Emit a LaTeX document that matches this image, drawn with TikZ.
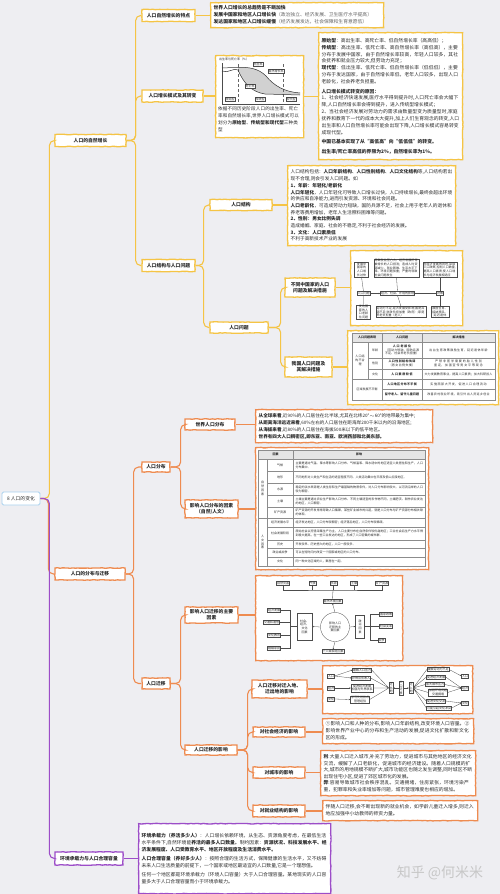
\documentclass[tikz,border=0pt]{standalone}
\usepackage{fontspec}
\setmainfont{Noto Sans CJK SC}
\XeTeXlinebreaklocale "zh"
\XeTeXlinebreakskip = 0pt plus 0.5pt
\usetikzlibrary{decorations.pathmorphing,arrows.meta,calc}
\definecolor{yl}{HTML}{F5C445}
\definecolor{og}{HTML}{EE8B50}
\definecolor{pp}{HTML}{9C4DC8}
\definecolor{bgc}{HTML}{EEEEF2}
\definecolor{tx}{HTML}{2B2B2B}
\definecolor{rootc}{HTML}{A9D1EE}
\tikzset{
 wob/.style={decorate, decoration={random steps, segment length=2.5pt, amplitude=0.3pt}},
 lab/.style={draw=#1, line width=1.3pt, fill=white, wob, font=\bfseries\fontsize{4.8}{5.8}\selectfont, text=tx, inner sep=0.5pt, align=center},
 tb/.style={draw=#1, line width=1.3pt, fill=white, wob, font=\fontsize{4.8}{7}\selectfont, text=tx, inner sep=3pt, align=left, anchor=north west},
 frm/.style={draw=#1, line width=1.3pt, fill=white, wob, inner sep=0pt, anchor=north west},
 conn/.style={draw=#1, line width=1.1pt, rounded corners=5pt},
 db/.style={draw=black!70, line width=0.3pt, fill=white, inner sep=0.5pt, font=\fontsize{3}{3.6}\selectfont, align=center, text=tx},
 tc/.style={inner sep=0.3pt, font=\fontsize{3}{3.8}\selectfont, text=tx, align=center},
 tl/.style={inner sep=0.3pt, font=\fontsize{3}{3.8}\selectfont, text=tx, align=left, anchor=west},
 gridl/.style={draw=black!45, line width=0.3pt},
 arr/.style={-{Stealth[length=1.6pt,width=1.3pt]}, line width=0.3pt, draw=black!70},
 ln/.style={line width=0.3pt, draw=black!70},
}
\begin{document}
\begin{tikzpicture}[x=1pt,y=-1pt]
\fill[bgc] (0,0) rectangle (500,894);
\useasboundingbox (0,0) rectangle (500,894);

% ---------- root and level 1
\node[draw=rootc, line width=0.8pt, fill=white, rounded corners=1.5pt, font=\fontsize{4.8}{6}\selectfont, text=tx, minimum width=38pt, minimum height=13pt, inner sep=1pt] (r) at (21,498.5) {8 人口的变化};
\node[lab=yl, minimum width=71pt, minimum height=12pt] (n1) at (90.5,140.5) {人口的自然增长};
\node[lab=og, minimum width=70pt, minimum height=12pt] (n2) at (90,574) {人口的分布与迁移};
\node[lab=pp, minimum width=68pt, minimum height=13pt] (n3) at (89,858.5) {环境承载力与人口合理容量};
\draw[conn=yl] (r.east) -- ++(9,0) |- (n1.west);
\draw[conn=og] (r.east) -- ++(8,0) |- (n2.west);
\draw[conn=pp] (r.east) -- ++(9,0) |- (n3.west);

% ---------- yellow: level 2
\node[lab=yl, minimum width=53pt, minimum height=12pt] (a1) at (168.5,15.5) {人口自然增长的特点};
\node[lab=yl, minimum width=61pt, minimum height=12pt] (a2) at (172.5,96) {人口增长模式及其转变};
\node[lab=yl, minimum width=53pt, minimum height=12pt] (a3) at (168.5,265.5) {人口结构与人口问题};
\draw[conn=yl] (n1.east) -- ++(9,0) |- (a1.west);
\draw[conn=yl] (n1.east) -- ++(9,0) |- (a2.west);
\draw[conn=yl] (n1.east) -- ++(9,0) |- (a3.west);

\node[tb=yl, text width=167pt, minimum height=25pt] (a1t) at (210,2) {\textbf{世界人口增长的总趋势是不断加快}\\
\textbf{发展中国家和地区人口增长快}{\color{black!60}（政治独立、经济发展、卫生医疗水平提高）}\\
\textbf{发达国家和地区人口增长缓慢}{\color{black!60}（经济发展发达，社会保障和生育意愿低）}};
\draw[conn=yl] (a1.east) -- (a1.east -| a1t.west);

% chart box
\node[frm=yl, minimum width=88pt, minimum height=82pt] (a2c) at (215,55) {};
\draw[conn=yl] (a2.east) -- (a2.east -| a2c.west);
\node[inner sep=0pt, font=\fontsize{3}{3.6}\selectfont, text=tx, anchor=west] (ctitle) at (219,59.5) {出生率与死亡率（\%）};
\fill[black!18] (238,70) .. controls (244,84) and (252,92) .. (265,94) -- (300,95) -- (300,93) .. controls (285,92) and (274,86) .. (266,76) .. controls (258,68) and (248,67) .. (238,67.5) -- cycle;
\draw[line width=0.4pt, black!70] (222,63) -- (222,104) -- (300,104);
\draw[line width=0.3pt, black!60, densely dashed] (238,64) -- (238,104) (283,64) -- (283,104);
\draw[line width=0.5pt, black!80] (222,68) .. controls (232,67.5) and (236,67.5) .. (238,67.5) .. controls (248,67) and (258,68) .. (266,76) .. controls (274,86) and (285,92) .. (300,93);
\draw[line width=0.5pt, black!80] (222,71) .. controls (228,74) and (234,67) .. (238,70) .. controls (244,84) and (252,92) .. (265,94) -- (300,95);
\node[db] (cb) at (258,64) {出生率};
\node[db] (cd) at (250,86) {死亡率};
\node[db] (cz) at (276,71) {自然增长率};
\node[db] (cy1) at (230,99.5) {原始型};
\node[db] (cy2) at (260,99.5) {传统型};
\node[db] (cy3) at (291,99.5) {现代型};
\node[inner sep=0pt, font=\fontsize{4.6}{6.9}\selectfont, text=tx, text width=82pt, align=left, anchor=north west] (a2ct) at (218,106.5) {依据不同历史阶段人口的出生率、死亡率和自然增长率,世界人口增长模式可以划分为\textbf{原始型}、\textbf{传统型和现代型}三种类型};

\node[tb=yl, text width=138pt, minimum height=127pt, font=\fontsize{4.8}{6.9}\selectfont] (a2t) at (318,32) {\textbf{原始型}：高出生率、高死亡率、低自然增长率（高高低）；\\
\textbf{传统型}：高出生率、低死亡率、高自然增长率（高低高），主要分布于发展中国家，由于自然增长率较高，年轻人口较多，其社会抚养和就业压力较大,但劳动力充足；\\
\textbf{现代型}：低出生率、低死亡率、低自然增长率（低低低），主要分布于发达国家，由于自然增长率低，老年人口较多，出现人口老龄化，社会养老负担重。\\[2.5pt]
\textbf{人口增长模式转变的原因：}\\
1、社会经济快速发展,医疗水平得到提升时,人口死亡率会大幅下降,人口自然增长率会得到提升，进入传统型增长模式；\\
2、当社会经济发展对劳动力的需求由数量型变为质量型时,家庭抚养和教育下一代的成本大大提升,加上人们生育观念的转变,人口出生率和人口自然增长率可能会出现下降,人口增长模式容易转变成现代型。\\[2.5pt]
\textbf{中国已基本实现了从“高低高”向“低低低”的转变。}\\[2.5pt]
\textbf{出生率/死亡率高低的界限为2\%，自然增长率为1\%。}};
\draw[conn=yl] (a2c.east) -- (a2c.east -| a2t.west);

% ---------- yellow: level 3
\node[lab=yl, minimum width=62pt, minimum height=11pt] (b1) at (241,205) {人口结构};
\node[lab=yl, minimum width=58pt, minimum height=11pt] (b2) at (239,327.5) {人口问题};
\draw[conn=yl] (a3.east) -- ++(8,0) |- (b1.west);
\draw[conn=yl] (a3.east) -- ++(8,0) |- (b2.west);

\node[tb=yl, text width=162pt, minimum height=80pt, font=\fontsize{4.7}{6.7}\selectfont] (b1t) at (287,165) {人口结构包括：\textbf{人口年龄结构}、\textbf{人口性别结构}、\textbf{人口文化结构}等,人口结构若出现不合理,则会引发人口问题。如\\
\textbf{1、年龄：年轻化/老龄化}\\
\textbf{人口年轻化}，人口年轻化可导致人口增长过快，人口持续增长,最终会超出环境的供应和自净能力,进而引发资源、环境和社会问题。\\
\textbf{人口老龄化}，可造成劳动力短缺，国防兵源不足，社会上用于老年人的退休和养老等费用增加，老年人生活照料困难等问题。\\
\textbf{2、性别：男女比例失调}\\
造成婚姻、家庭、社会的不稳定,不利于社会经济的发展。\\
\textbf{3、文化：人口素质低}\\
不利于高新技术产业的发展};
\draw[conn=yl] (b1.east) -- (b1.east -| b1t.west);

% level 4 under 人口问题
\node[lab=yl, minimum width=50pt, minimum height=19pt] (c1) at (310,287.5) {不同中国家的人口\\问题及解决措施};
\node[lab=yl, minimum width=47pt, minimum height=20pt] (c2) at (308.5,367) {我国人口问题及\\其解决措施};
\draw[conn=yl] (b2.east) -- ++(12,0) |- (c1.west);
\draw[conn=yl] (b2.east) -- ++(12,0) |- (c2.west);

% diagram: countries
\node[frm=yl, minimum width=112pt, minimum height=75pt] (c1d) at (350,250) {};
\draw[conn=yl] (c1.east) -- (c1.east -| c1d.west);
\node[db, text width=13pt] (p1) at (361.5,269.5) {发展中\\国家的\\人口增\\长过快};
\node[db, text width=44pt, align=left] (p2) at (396.5,268) {导致就业压力大、经济发展所得被增长的人口抵消；造成人均资源减少、就业困难、生活水平下降、环境问题加重；严重时导致社会问题发生};
\node[db, text width=33pt, align=left] (p3) at (440,269.5) {在经济发展的同时,采取人口政策,控制人口数量,提高人口素质,使人口增长与经济发展相适应};
\node[db] (q1) at (363.5,293.5) {人口问题};
\node[db] (q2) at (397.5,293.5) {经济、社会、环境的影响};
\node[db] (q3) at (440,293.5) {对策};
\node[db, text width=13pt] (s1) at (363.5,312) {发达国\\家的人\\口老龄\\化问题};
\node[db, text width=49pt, align=left] (s2) at (401,312) {劳动力不足,经济发展受影响;国防兵源不足;财政负担加重（政府）;家庭养老负担重（老人）};
\node[db, text width=17pt] (s3) at (440,312) {鼓励生育、\\接纳移民、\\延迟退休};
\draw[ln] (p1.south) -- (q1.north) (q1.south) -- (s1.north);
\draw[ln] (p2.south) -- (q2.north) (q2.south) -- (s2.north);
\draw[ln] (p3.south) -- (q3.north) (q3.south) -- (s3.north);
\draw[arr] (q1.east) -- (q2.west);
\draw[ln] (q2.east) -- (q3.west);

% table: China
\node[frm=yl, minimum width=151pt, minimum height=74pt] (c2t) at (347,330) {};
\draw[conn=yl] (c2.east) -- (c2.east -| c2t.west);
\fill[black!10] (352,333) rectangle (495,342);
\draw[gridl] (352,333) rectangle (495,400);
\draw[gridl] (352,342) -- (495,342) (368,358) -- (495,358) (368,369) -- (495,369) (352,379) -- (495,379) (382,389) -- (495,389);
\draw[gridl] (368,342) -- (368,379) (382,333) -- (382,400) (422,333) -- (422,400);
\node[tc, font=\bfseries\fontsize{3}{3.8}\selectfont] (h1) at (367,337.5) {人口问题表现};
\node[tc, font=\bfseries\fontsize{3}{3.8}\selectfont] (h2) at (402,337.5) {人口问题};
\node[tc, font=\bfseries\fontsize{3}{3.8}\selectfont] (h3) at (458.5,337.5) {解决措施};
\node[tc, text width=13pt] (t0) at (360,360.5) {人口结\\构不合\\理};
\node[tc] (t1) at (375,350) {年龄};
\node[tc] (t2) at (375,363.5) {性别};
\node[tc] (t3) at (375,374) {文化};
\node[tc] (t4) at (367,389.5) {区域发展不平衡};
\node[tc, text width=37pt] (u1) at (402,350) {\textbf{人口老龄化}\\（劳动力短缺、国防兵源不足、社会养老负担重）};
\node[tc, text width=37pt] (u2) at (402,363.5) {\textbf{人口性别结构失调}\\（男女比例失衡）};
\node[tc, text width=37pt] (u3) at (402,374) {\textbf{人口素质较低}};
\node[tc, text width=37pt] (u4) at (402,384) {\textbf{人口地区分布不平衡}};
\node[tc, text width=37pt] (u5) at (402,394.5) {\textbf{留守老人、留守儿童问题}};
\node[tc, text width=70pt] (v1) at (458.5,350) {出台生育政策鼓励生育，延迟退休年龄};
\node[tc, text width=70pt] (v2) at (458.5,363.5) {严禁非医学需要的胎儿性别鉴定，加强宣传男女平等观念};
\node[tc, text width=70pt] (v3) at (458.5,374) {大力发展教育事业，提高人口素质；加大科研投入};
\node[tc, text width=70pt] (v4) at (458.5,384) {实施西部大开发，促进人口合理流动};
\node[tc, text width=70pt] (v5) at (458.5,394.5) {改善农村就业环境，吸引外出人员返乡创业};

% ---------- orange
\node[lab=og, minimum width=28pt, minimum height=10pt] (d1) at (156,467) {人口分布};
\node[lab=og, minimum width=28pt, minimum height=11pt] (d2) at (156,683.5) {人口迁移};
\draw[conn=og] (n2.east) -- ++(8,0) |- (d1.west);
\draw[conn=og] (n2.east) -- ++(8,0) |- (d2.west);

\node[lab=og, minimum width=50pt, minimum height=11pt] (e1) at (210,424.5) {世界人口分布};
\node[lab=og, minimum width=53pt, minimum height=18pt] (e2) at (211.5,509) {影响人口分布的因素\\（自然/人文）};
\draw[conn=og] (d1.east) -- ++(10,0) |- (e1.west);
\draw[conn=og] (d1.east) -- ++(10,0) |- (e2.west);

\node[tb=og, text width=171pt, minimum height=33pt, font=\fontsize{4.6}{7}\selectfont] (e1t) at (255,409) {\textbf{从全球来看},近90\%的人口居住在北半球,尤其在北纬20°$\sim$60°的地带最为集中;\\
\textbf{从距离海洋远近来看},60\%左右的人口居住在距海岸200千米以内的沿海地区;\\
\textbf{从海拔来看},近80\%的人口居住在海拔500米以下的低平地区。\\
\textbf{世界有四大人口稠密区,即东亚、南亚、欧洲西部和北美东部。}};
\draw[conn=og] (e1.east) -- (e1.east -| e1t.west);

% table: distribution factors
\node[frm=og, minimum width=173pt, minimum height=122pt] (e2t) at (255,447) {};
\draw[conn=og] (e2.east) -- (e2.east -| e2t.west);
\fill[black!10] (258,450) rectangle (425,459);
\draw[gridl] (258,450) rectangle (425,566);
\draw[gridl] (258,459) -- (425,459) (258,518) -- (425,518);
\draw[gridl] (267,471) -- (425,471) (267,483) -- (425,483) (267,495) -- (425,495) (267,507) -- (425,507);
\draw[gridl] (267,527) -- (425,527) (267,540) -- (425,540) (267,548) -- (425,548) (267,557) -- (425,557);
\draw[gridl] (267,459) -- (267,566) (293,450) -- (293,566);
\node[tc, font=\bfseries\fontsize{3}{3.8}\selectfont] (fh1) at (275.5,454.5) {因素};
\node[tc, font=\bfseries\fontsize{3}{3.8}\selectfont] (fh2) at (359,454.5) {影响};
\node[tc] (fg1) at (262.5,488.5) {自\\然\\因\\素};
\node[tc] (fg2) at (262.5,542) {人\\文\\因\\素};
\node[tc] (fa1) at (280,465) {气候};
\node[tc] (fa2) at (280,477) {地形};
\node[tc] (fa3) at (280,489) {水源};
\node[tc] (fa4) at (280,501) {土壤};
\node[tc] (fa5) at (280,512.5) {矿产资源};
\node[tc] (fa6) at (280,522.5) {经济发展水平};
\node[tc] (fa7) at (280,533.5) {社会发展阶段};
\node[tc] (fa8) at (280,544) {历史};
\node[tc] (fa9) at (280,552.5) {政治或战争};
\node[tc] (fa10) at (280,561.5) {文化};
\node[tl, text width=128pt] (fb1) at (295,465) {主要是通过气温、降水等影响人口分布。气候温和、降水适中的地区适宜人类居住和生产，人口分布集中。};
\node[tl, text width=128pt] (fb2) at (295,477) {不同地形对人类生产和生活的适宜程度不同。人类活动集中在平原及低山丘陵地区。};
\node[tl, text width=128pt] (fb3) at (295,489) {稳定的淡水来源是人类生存和生产最基础的物质条件，对人口分布影响较大。以河流沿岸的人口较为稠密。};
\node[tl, text width=128pt] (fb4) at (295,501) {土壤主要是通过农业生产影响人口分布。不同土壤适宜的农作物不同，土壤肥沃、耕作农业发达的地区，人口稠密。};
\node[tl, text width=128pt] (fb5) at (295,512.5) {矿产资源的开发常常导致人口集聚，某些矿业城市的兴起，就是人口分布与矿产资源分布相关联的体现。};
\node[tl, text width=128pt] (fb6) at (295,522.5) {经济发达地区，人口分布较稠密；经济落后地区，人口分布较稀疏。};
\node[tl, text width=128pt] (fb7) at (295,533.5) {原始社会以狩猎采集生产为主，人口主要分布在自然条件较优越地区；工业社会后生产力水平得到极大提高，在一些工业发达的地区，形成了人口密集的城市群。};
\node[tl, text width=128pt] (fb8) at (295,544) {开发较早、历史悠久的地区，人口一般较多。};
\node[tl, text width=128pt] (fb9) at (295,552.5) {可以在短时间内改变一个国家或地区的人口分布。};
\node[tl, text width=128pt] (fb10) at (295,561.5) {同一种文化区域的人，聚居在一起。};

% migration branch
\node[lab=og, minimum width=53pt, minimum height=16pt] (f1) at (211.5,615) {影响人口迁移的主要\\因素};
\node[lab=og, minimum width=52pt, minimum height=10pt] (f2) at (211,750) {人口迁移的影响};
\draw[conn=og] (d2.east) -- ++(10,0) |- (f1.west);
\draw[conn=og] (d2.east) -- ++(10,0) |- (f2.west);

% diagram: migration factors
\node[frm=og, minimum width=147pt, minimum height=85pt] (f1d) at (255,575) {};
\draw[conn=og] (f1.east) -- (f1.east -| f1d.west);
\node[db] (m1) at (283,583.5) {自然灾害};
\node[db] (m2) at (312.5,583.5) {气候};
\node[db] (m3) at (333.5,583.5) {水源};
\node[db] (m4) at (354,583.5) {土壤};
\node[db] (m5) at (382,583.5) {矿产资源};
\coordinate (mt) at (333,590);
\draw[ln] (m1.south) |- (mt) -| (m5.south);
\draw[ln] (m2.south) -- (m2.south |- mt) (m3.south) -- (m3.south |- mt) (m4.south) -- (m4.south |- mt);
\node[db] (mz) at (332.5,601.5) {自然环境因素};
\draw[ln] (mt) -- (mz.north);
\node[db, circle, minimum size=29pt, inner sep=0pt] (mc) at (335,627) {影响人口\\迁移的主\\要因素};
\node[db, minimum width=15pt, minimum height=27pt] (msj) at (304.5,626.5) {社会、\\经济、\\文化\\因素};
\node[db, minimum width=9pt, minimum height=23pt] (mzz) at (360,626.5) {政\\治\\因\\素};
\node[db] (mg) at (333,651.5) {个人或家庭因素};
\draw[arr] (mc.north) -- (mz.south);
\draw[arr] (mc.west) -- (msj.east);
\draw[arr] (mc.east) -- (mzz.west);
\draw[arr] (mc.south) -- (mg.north);
\node[db] (ml1) at (274,610) {经济发展};
\node[db] (ml2) at (271.5,622.5) {交通和通信};
\node[db] (ml3) at (274,635) {文化教育};
\node[db] (ml4) at (274,648.5) {婚姻家庭};
\coordinate (mlb) at (290,626.5);
\draw[ln] (msj.west) -- (mlb);
\draw[ln] (ml1.east) -| (mlb) (ml4.east) -| (mlb) (ml2.east) -- (ml2.east -| mlb) (ml3.east) -- (ml3.east -| mlb);
\node[db] (mr1) at (386,614) {国家政策};
\node[db] (mr2) at (386,626.5) {社会变革};
\node[db] (mr3) at (381.5,640) {战争};
\coordinate (mrb) at (370,626.5);
\draw[ln] (mzz.east) -- (mrb);
\draw[ln] (mr1.west) -| (mrb) (mr3.west) -| (mrb) (mr2.west) -- (mr2.west -| mrb);

% level 4 under 人口迁移的影响
\node[lab=og, minimum width=55pt, minimum height=18pt] (g1) at (279.5,689) {人口迁移对迁入地、\\迁出地的影响};
\node[lab=og, minimum width=52pt, minimum height=10pt] (g2) at (279,732) {对社会经济的影响};
\node[lab=og, minimum width=52pt, minimum height=11pt] (g3) at (279,772.5) {对城市的影响};
\node[lab=og, minimum width=52pt, minimum height=12pt] (g4) at (279,811) {对就业结构的影响};
\draw[conn=og] (f2.east) -- ++(10,0) |- (g1.west);
\draw[conn=og] (f2.east) -- ++(10,0) |- (g2.west);
\draw[conn=og] (f2.east) -- ++(10,0) |- (g3.west);
\draw[conn=og] (f2.east) -- ++(10,0) |- (g4.west);

% diagram: in/out
\node[frm=og, minimum width=150pt, minimum height=48pt] (g1d) at (322,665) {};
\draw[conn=og] (g1.east) -- (g1.east -| g1d.west);
\node[db] (w1) at (331,676) {人口};
\node[db] (w2) at (331,688) {经济};
\node[db] (w3) at (331,699) {文化};
\node[db] (wa1) at (362,670) {缓解人口压力};
\node[db] (wa2) at (361,678) {获得劳务收入};
\node[db] (wa3) at (362,688) {促进经济发展\\加强与外界联系};
\node[db] (wa4) at (360,699.5) {学习先进技术\\管理经验};
\node[db] (wq1) at (391,688) {迁\\出\\地};
\node[db] (wq2) at (401,688) {人\\口\\迁\\移};
\node[db] (wq3) at (411,688) {迁\\入\\地};
\node[db] (wb1) at (438,669.5) {缓解劳动力不足};
\node[db] (wb2) at (436,677) {促进经济发展};
\node[db] (wb3) at (435,684.5) {加大城市压力};
\node[db] (wb4) at (438,692.5) {加剧环境问题\\交通拥堵};
\node[db] (wb5) at (436,701) {促进文化交流};
\node[db] (wb6) at (439,708) {可能引起文化冲突};
\node[db] (x1) at (465,676) {人口};
\node[db] (x2) at (465,688) {经济};
\node[db] (x3) at (465,703) {文化};
\draw[arr] (w1.east) -- (wa1.west);
\draw[arr] (w1.east) -- (wa2.west);
\draw[arr] (w2.east) -- (wa3.west);
\draw[arr] (w3.east) -- (wa4.west);
\draw[ln] (wa1.east) -- (wq1.west) (wa2.east) -- (wq1.west) (wa3.east) -- (wq1.west) (wa4.east) -- (wq1.west);
\draw[arr] (wq2.west) -- (wq1.east);
\draw[arr] (wq2.east) -- (wq3.west);
\draw[ln] (wq3.east) -- (wb1.west) (wq3.east) -- (wb2.west) (wq3.east) -- (wb3.west) (wq3.east) -- (wb4.west) (wq3.east) -- (wb5.west) (wq3.east) -- (wb6.west);
\draw[arr] (wb1.east) -- (x1.west);
\draw[arr] (wb2.east) -- (x2.west);
\draw[arr] (wb3.east) -- (x2.west);
\draw[arr] (wb4.east) -- (x2.west);
\draw[arr] (wb5.east) -- (x3.west);
\draw[arr] (wb6.east) -- (x3.west);

% text boxes for effects
\node[tb=og, text width=145pt, minimum height=25pt] (g2t) at (322,718) {①影响人口和人种的分布,影响人口年龄结构,改变环境人口容量。②影响世界产业中心的分布和生产活动的发展,促进文化扩散和新文化区的形成。};
\draw[conn=og] (g2.east) -- (g2.east -| g2t.west);
\node[tb=og, text width=149pt, minimum height=45pt, font=\fontsize{4.8}{6.5}\selectfont] (g3t) at (320,750) {\textbf{利}:大量人口迁入城市,补充了劳动力，促进城市与其他地区的经济文化交流，缓解了人口老龄化，促进城市的经济建设。随着人口规模的扩大,城市的用地规模不断扩大,城市功能区也随之发生调整,同时城区不断出现住宅小区,促进了郊区城市化的发展。\\
\textbf{弊}:容易导致城市社会秩序混乱，交通拥堵，住房紧张，环境污染严重，犯罪率和失业率增加等问题，城市管理难度也相应的增加。};
\draw[conn=og] (g3.east) -- (g3.east -| g3t.west);
\node[tb=og, text width=149pt, minimum height=20pt] (g4t) at (322,800) {伴随人口迁移,会不断出现新的就业机会，如学龄儿童迁入增多,则迁入地应加强中小幼教师的师资力量。};
\draw[conn=og] (g4.east) -- (g4.east -| g4t.west);

% ---------- purple
\node[tb=pp, text width=186pt, minimum height=70pt, font=\fontsize{4.8}{6.8}\selectfont] (h1t) at (138,823) {\textbf{环境承载力（养活多少人）}：人口增长依赖环境，从生态、资源角度考虑，在最低生活水平条件下,自然环境能\textbf{养活的最多人口数量}。制约因素：\textbf{资源状况、科技发展水平、经济发展程度、人口受教育水平、地区开放程度及生活消费水平。}\\[2.5pt]
\textbf{人口合理容量（养好多少人）}：按照合理的生活方式，保障健康的生活水平，又不妨碍未来人口生活质量的前提下，一个国家或地区最适宜的人口数量,它是一个理想值。\\[2.5pt]
任何一个地区都是环境承载力（环境人口容量）大于人口合理容量。某地现实的人口容量多大于人口合理容量而小于环境承载力。};
\draw[conn=pp] (n3.east) -- (n3.east -| h1t.west);

\node[font=\fontsize{14}{16}\selectfont, text=black!22] (wm) at (440,873) {知乎 @何米米};
\end{tikzpicture}
\end{document}
